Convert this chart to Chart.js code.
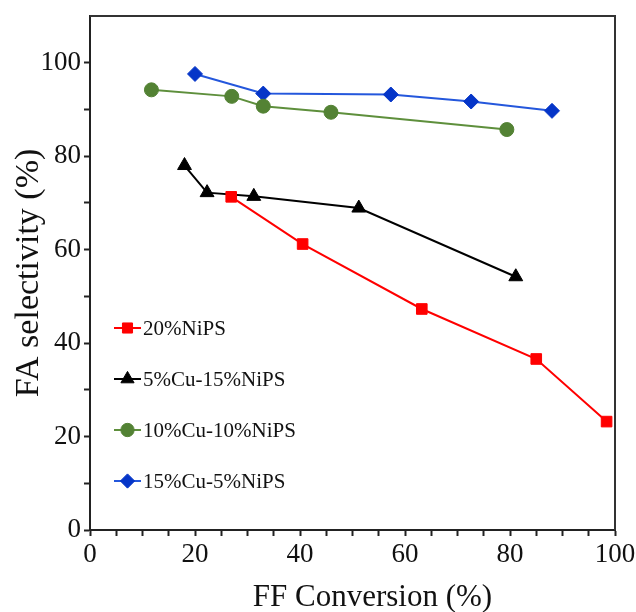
<!DOCTYPE html>
<html>
<head>
<meta charset="utf-8">
<script src="https://cdn.jsdelivr.net/npm/chart.js@4/dist/chart.umd.min.js"></script>
<style>
  html, body { margin: 0; padding: 0; background: #fff; }
  #wrap { width: 636px; height: 612px; }
</style>
</head>
<body>
<div id="wrap"><canvas id="chart"></canvas></div>
<script>
// values
const seriesNames = ['20%NiPS', '5%Cu-15%NiPS', '10%Cu-10%NiPS', '15%Cu-5%NiPS'];

const niX = [26.9, 40.5, 63.2, 85.0, 98.4];
const niY = [71.3, 61.2, 47.3, 36.6, 23.2];

const cu5X = [18.0, 22.3, 31.2, 51.2, 81.1];
const cu5Y = [78.0, 72.2, 71.4, 68.9, 54.2];

const cu10X = [11.7, 27.0, 33.0, 45.9, 79.4];
const cu10Y = [94.2, 92.8, 90.7, 89.4, 85.7];

const cu15X = [20.0, 33.0, 57.3, 72.6, 88.0];
const cu15Y = [97.6, 93.4, 93.2, 91.7, 89.7];

const xTickLabels = [0, 20, 40, 60, 80, 100];
const yTickLabels = [0, 20, 40, 60, 80, 100];

const serif = "'Liberation Serif', 'DejaVu Serif', serif";

function pts(xs, ys) {
  return xs.map((x, i) => ({ x: x, y: ys[i] }));
}

const datasets = [
  { label: seriesNames[0], data: pts(niX, niY), borderColor: '#ff0000', backgroundColor: '#ff0000',
    pointStyle: 'rect', pointRadius: 7.5 },
  { label: seriesNames[1], data: pts(cu5X, cu5Y), borderColor: '#000000', backgroundColor: '#000000',
    pointStyle: 'triangle', pointRadius: 8 },
  { label: seriesNames[2], data: pts(cu10X, cu10Y), borderColor: '#5e8f3c', backgroundColor: '#538234',
    pointStyle: 'circle', pointRadius: 7 },
  { label: seriesNames[3], data: pts(cu15X, cu15Y), borderColor: '#2457dc', backgroundColor: '#0535c8',
    pointStyle: 'rectRot', pointRadius: 7.5 },
];
datasets.forEach(d => {
  d.showLine = true;
  d.borderWidth = 2;
  d.pointBorderWidth = 1;
  d.pointBorderColor = d.backgroundColor;
});

// top / right frame of the plot box
const framePlugin = {
  id: 'frame',
  afterDraw(chart) {
    const { ctx, chartArea: a } = chart;
    ctx.save();
    ctx.strokeStyle = '#333';
    ctx.lineWidth = 2;
    ctx.beginPath();
    ctx.moveTo(a.left, a.top);
    ctx.lineTo(a.right, a.top);
    ctx.lineTo(a.right, a.bottom);
    ctx.stroke();
    ctx.restore();
  }
};

// legend stacked inside the plot, lower left
const legendPlugin = {
  id: 'innerLegend',
  afterDraw(chart) {
    const { ctx, chartArea: a } = chart;
    const x0 = a.left + 24, y0 = a.top + 312, gap = 51;
    ctx.save();
    chart.data.datasets.forEach((d, i) => {
      const y = y0 + i * gap;
      ctx.strokeStyle = d.borderColor;
      ctx.lineWidth = 2;
      ctx.beginPath();
      ctx.moveTo(x0, y);
      ctx.lineTo(x0 + 27, y);
      ctx.stroke();
      ctx.fillStyle = d.backgroundColor;
      ctx.strokeStyle = d.backgroundColor;
      ctx.lineWidth = 1;
      Chart.helpers.drawPoint(ctx, { pointStyle: d.pointStyle, radius: d.pointRadius * 0.95, borderWidth: 1 }, x0 + 13.5, y);
      ctx.fillStyle = '#111';
      ctx.font = '21px ' + serif;
      ctx.textBaseline = 'middle';
      ctx.fillText(d.label, x0 + 29, y + 1);
    });
    ctx.restore();
  }
};

// x axis title, sits a little right of centre in the reference
const xTitlePlugin = {
  id: 'xTitle',
  afterDraw(chart) {
    const { ctx, chartArea: a } = chart;
    ctx.save();
    ctx.fillStyle = '#111';
    ctx.font = '31px ' + serif;
    ctx.textAlign = 'center';
    ctx.textBaseline = 'alphabetic';
    ctx.fillText('FF Conversion (%)', (a.left + a.right) / 2 + 20, 606);
    ctx.restore();
  }
};

new Chart(document.getElementById('chart'), {
  type: 'scatter',
  data: { datasets: datasets },
  options: {
    responsive: true,
    maintainAspectRatio: false,
    animation: false,
    layout: { padding: { top: 16, right: 21, left: 0, bottom: 0 } },
    plugins: { legend: { display: false }, tooltip: { enabled: false } },
    scales: {
      x: {
        type: 'linear', min: 0, max: 100,
        afterFit(s) { s.height = 82; s.paddingLeft = 0; s.paddingRight = 0; },
        afterBuildTicks(s) {
          const t = [];
          for (let v = 0; v <= 100; v += 5) t.push({ value: v });
          s.ticks = t;
        },
        ticks: {
          color: '#111', font: { family: serif, size: 27 }, padding: 3, maxRotation: 0, autoSkip: false,
          callback: v => xTickLabels.includes(v) ? String(v) : ''
        },
        grid: { drawOnChartArea: false, drawTicks: true, tickLength: 6, tickWidth: 2, color: '#222' },
        border: { color: '#222', width: 2 }
      },
      y: {
        type: 'linear', min: 0, max: 110,
        afterFit(s) { s.width = 90; s.paddingTop = 0; s.paddingBottom = 0; },
        afterBuildTicks(s) {
          const t = [];
          for (let v = 0; v <= 100; v += 10) t.push({ value: v });
          s.ticks = t;
        },
        ticks: {
          color: '#111', font: { family: serif, size: 27 }, padding: 3, autoSkip: false,
          callback: v => yTickLabels.includes(v) ? String(v) : ''
        },
        grid: { drawOnChartArea: false, drawTicks: true, tickLength: 6, tickWidth: 2, color: '#222' },
        border: { color: '#222', width: 2 },
        title: {
          display: true, text: 'FA selectivity (%)', color: '#111',
          font: { family: serif, size: 34, lineHeight: 1 }, padding: { top: 12, bottom: 0 }
        }
      }
    }
  },
  plugins: [framePlugin, legendPlugin, xTitlePlugin]
});
</script>
</body>
</html>
